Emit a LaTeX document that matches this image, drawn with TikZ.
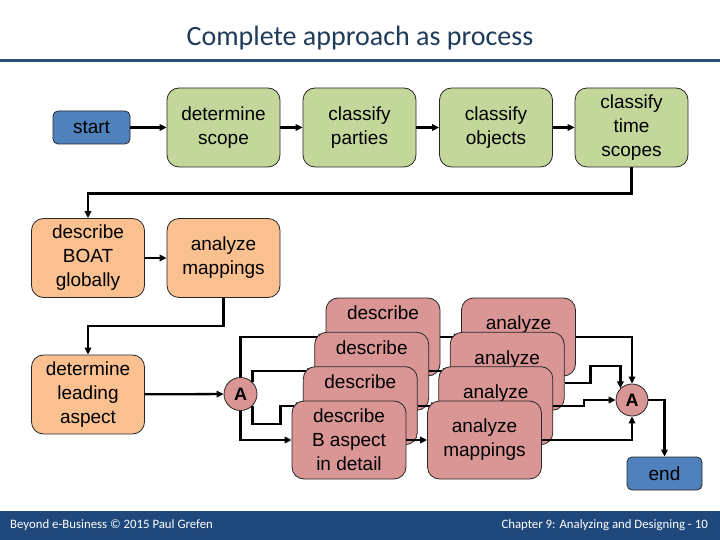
\documentclass[tikz,border=0pt]{standalone}
\usepackage{fontspec}
\setmainfont{Liberation Sans}
\newfontfamily\slidefont{Carlito}
\usepackage{tikz}
\usetikzlibrary{arrows.meta,calc}

\definecolor{phasegreen}{HTML}{C4D79B}
\definecolor{phaseorange}{HTML}{FAC090}
\definecolor{phasered}{HTML}{D99694}
\definecolor{phaseblue}{HTML}{4F81BD}
\definecolor{titleblue}{HTML}{1F3B5C}
\definecolor{barblue}{HTML}{1F497D}
\definecolor{ruleblue}{HTML}{2C4D75}

\begin{document}
\begin{tikzpicture}[x=1pt, y=-1pt,
  box/.style={draw=black!85, line width=0.8pt, rounded corners=12pt, fill=#1,
              minimum width=113pt, minimum height=79pt, inner sep=0pt,
              align=center, font=\fontsize{19}{24}\selectfont},
  box/.default=phasegreen,
  aspect/.style={box=phasered, minimum width=114pt, minimum height=78pt},
  term/.style={draw=black!85, line width=0.8pt, rounded corners=5pt, fill=phaseblue,
               minimum width=77pt, minimum height=33pt, inner sep=0pt,
               font=\fontsize{19}{24}\selectfont},
  junction/.style={draw=black!85, line width=0.8pt, circle, fill=phasered,
               minimum size=33pt, inner sep=0pt, font=\fontsize{18}{20}\selectfont\bfseries},
  arr/.style={-{Triangle[length=7pt,width=6.5pt]}, line width=2.3pt},
  slide/.style={font=\slidefont\fontsize{#1}{#1}\selectfont, inner sep=0pt},
]
\useasboundingbox (0,0) rectangle (720,540);
% Kop en voet
\node[slide=28, text=titleblue] (title) at (360,38) {Complete approach as process};
\fill[ruleblue] (0,59.5) rectangle (720,62.5);
\fill[barblue] (0,511) rectangle (720,540);
\node[slide=12.8, text=white, anchor=west] (credit) at (10,525.5) {Beyond e-Business © 2015 Paul Grefen};
\node[slide=12.8, text=white, anchor=east] (page)   at (708,525.5) {Chapter 9: Analyzing and Designing - 10};
% Stappen
\node[term]  (start)   at (91.5,127.5) {start};
\node[box]   (scope)   at (223.5,127.5) {determine\\scope};
\node[box]   (parties) at (359.5,127.5) {classify\\parties};
\node[box]   (objects) at (496,127.5)   {classify\\objects};
\node[box]   (times)   at (631.5,127.5) {classify\\time\\scopes};
\node[box=phaseorange] (boat) at (88,258)    {describe\\BOAT\\globally};
\node[box=phaseorange] (mapg) at (223.5,258) {analyze\\mappings};
\node[box=phaseorange] (lead) at (88,394.5)  {determine\\leading\\aspect};
\node[junction] (joinA) at (240.5,394) {A};
\node[junction, minimum size=32pt] (joinB) at (632,400) {A};
\node[term, minimum width=75pt] (finish) at (664.5,473.5) {end};
% Pijlen
\draw[arr] (start) -- (scope);
\draw[arr] (scope) -- (parties);
\draw[arr] (parties) -- (objects);
\draw[arr] (objects) -- (times);
\draw[arr] (times.south) -- ++(0,26) -| (boat.north);
\draw[arr] (boat) -- (mapg);
\draw[arr] (mapg.south) -- ++(0,28) -| (lead.north);
\draw[arr] (lead) -- (joinA);
% Achterste lagen: alleen de eerste regel blijft zichtbaar
\node[aspect] (desc1) at (383,337)     {describe\\\phantom{T aspect}\\\phantom{in detail}};
\node[aspect] (anal1) at (518.5,337)   {analyze\\\phantom{mappings}};
\draw[arr] (joinA.north) |- (desc1.west);
\draw[arr] (desc1) -- (anal1);
\draw[arr] (anal1.east) -| (joinB.north);
\node[aspect] (desc2) at (371.7,371.3) {describe\\\phantom{A aspect}\\\phantom{in detail}};
\node[aspect] (anal2) at (507.2,371.3) {analyze\\\phantom{mappings}};
\draw[arr] (joinA.north east) |- (desc2.west);
\draw[arr] (desc2) -- (anal2);
\draw[arr] ($(anal2.east)+(0,12)$) -| ++(26,-17) -| (joinB.north west);
\node[aspect] (desc3) at (360.3,405.7) {describe\\\phantom{O aspect}\\\phantom{in detail}};
\node[aspect] (anal3) at (495.8,405.7) {analyze\\\phantom{mappings}};
\draw[arr] (joinA.south east) |- ++(28,18) |- (desc3.west);
\draw[arr] (desc3) -- (anal3);
\draw[arr] (anal3.east) -- ++(31,0) |- (joinB.west);
% Voorste laag
\node[aspect] (desc4) at (349,440)     {describe\\B aspect\\in detail};
\node[aspect] (anal4) at (484.5,440)   {analyze\\mappings};
\draw[arr] (joinA.south) |- (desc4.west);
\draw[arr] (desc4) -- (anal4);
\draw[arr] (anal4.east) -| (joinB.south);
\draw[arr] (joinB.east) -| (finish.north);
\end{tikzpicture}
\end{document}
